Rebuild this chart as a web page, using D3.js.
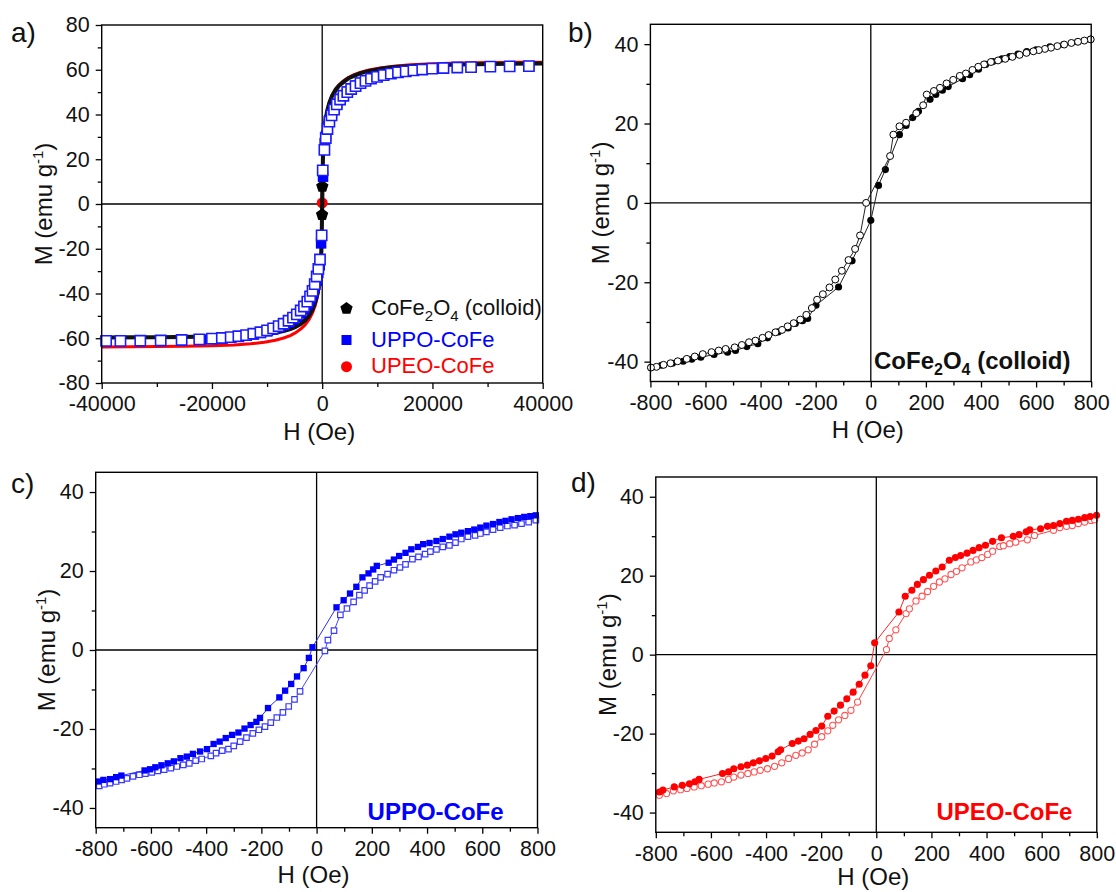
<!DOCTYPE html>
<html>
<head>
<meta charset="utf-8">
<script src="https://cdn.jsdelivr.net/npm/d3@7"></script>
<style>
body{margin:0;background:#fff;}
text{font-family:"Liberation Sans",Arial,sans-serif;fill:#111;}
</style>
</head>
<body>
<script>
// ---------- tick values ----------
var aXTicks = [-40000,-20000,0,20000,40000];
var aXMinor = [-30000,-10000,10000,30000];
var aYTicks = [-80,-60,-40,-20,0,20,40,60,80];
var aYMinor = [-70,-50,-30,-10,10,30,50,70];
var hXTicks = [-800,-600,-400,-200,0,200,400,600,800];
var hXMinor = [-700,-500,-300,-100,100,300,500,700];
var hYTicks = [-40,-20,0,20,40];
var hYMinor = [-30,-10,10,30];

// ---------- panel a : full loops, [H (Oe), M (emu/g)] ----------
var aRed = [[40000,63.4],[35000,63.3],[30000,63.2],[25000,63.0],[20000,62.7],[16000,62.2],[13000,61.6],[10500,60.8],
  [8500,59.9],[7000,58.9],[5800,57.8],[4800,56.6],[3900,55.1],[3100,53.4],[2400,51.3],[1800,48.6],[1300,45.4],
  [900,41.6],[600,37.5],[400,33.2],[250,28.2],[130,20.6],[0,0.5],[-130,-20.5],[-250,-28.2],[-400,-33.2],
  [-600,-37.6],[-900,-41.8],[-1300,-45.6],[-1800,-48.9],[-2400,-51.7],[-3100,-54.0],[-3900,-55.9],[-4800,-57.5],
  [-5800,-58.8],[-7000,-59.9],[-8500,-60.9],[-10500,-61.8],[-13000,-62.5],[-16000,-63.0],[-20000,-63.4],
  [-25000,-63.6],[-30000,-63.7],[-35000,-63.8],[-40000,-63.9]];
var aBlack = [[40000,62.8],[35000,62.7],[30000,62.6],[25000,62.4],[20000,62.1],[16000,61.7],[13000,61.2],[10500,60.4],
  [8500,59.5],[7000,58.5],[5800,57.4],[4800,56.2],[3900,54.7],[3100,53.0],[2400,51.0],[1800,48.4],[1300,45.3],
  [900,41.6],[600,37.6],[400,33.3],[250,28.4],[130,21.0],[-20,-4.8],[-120,-19.0],[-250,-27.3],[-400,-32.2],
  [-600,-36.6],[-900,-40.6],[-1300,-44.2],[-1800,-47.4],[-2400,-50.0],[-3100,-52.0],[-3900,-53.6],[-4800,-54.9],
  [-5800,-55.9],[-7000,-56.8],[-8500,-57.6],[-10500,-58.2],[-13000,-58.7],[-16000,-59.0],[-20000,-59.2],
  [-25000,-59.4],[-30000,-59.5],[-35000,-59.6],[-40000,-59.7],
  [-30000,-59.5],[-20000,-59.2],[-13000,-58.7],[-8500,-57.6],[-5800,-55.9],[-3900,-53.6],[-2400,-50.0],
  [-1300,-44.2],[-600,-36.6],[-250,-27.3],[-80,-14.0],[20,7.8],[150,22.0],[400,33.3],[900,41.6],[1800,48.4],
  [3100,53.0],[4800,56.2],[7000,58.5],[10500,60.4],[16000,61.7],[25000,62.4],[40000,62.8]];
var aBlueDown = [[37500,61.6],[34000,61.5],[30500,61.4],[27000,61.2],[24500,61.0],[22000,60.8],[20000,60.5],[18200,60.2],
  [16600,59.8],[15200,59.4],[13800,58.9],[12500,58.3],[11200,57.6],[10000,56.9],[8900,56.1],[7900,55.1],[7000,54.1],
  [6100,52.9],[5300,51.6],[4600,50.2],[3900,48.6],[3300,46.9],[2700,44.8],[2200,42.6],[1750,40.2],[1350,37.4],
  [1000,34.2],[700,30.5],[450,27.2],[150,12.2],[-200,-17.6],[-450,-27.4],[-700,-30.8],[-1000,-34.4],[-1350,-37.6],
  [-1750,-40.4],[-2200,-42.8],[-2700,-45.0],[-3300,-47.1],[-3900,-48.8],[-4600,-50.4],[-5300,-51.8],[-6100,-53.0],
  [-7000,-54.2],[-7900,-55.2],[-8900,-56.1],[-10000,-56.9],[-11200,-57.6],[-12500,-58.3],[-13800,-58.8],
  [-15200,-59.3],[-16600,-59.7],[-18200,-60.1],[-20000,-60.4],[-22000,-60.6],[-25500,-60.9],[-29300,-61.0],
  [-33000,-61.1],[-36600,-61.2],[-39200,-61.2]];
var aBlueUp = [[-39200,-61.2],[-36600,-61.2],[-33000,-61.1],[-29300,-61.0],[-25500,-60.8],[-22300,-60.5],[-20000,-60.2],
  [-18200,-59.9],[-16600,-59.5],[-15200,-59.1],[-13800,-58.6],[-12500,-58.0],[-11200,-57.3],[-10000,-56.5],
  [-8900,-55.6],[-7900,-54.6],[-7000,-53.5],[-6100,-52.2],[-5300,-50.8],[-4600,-49.3],[-3900,-47.6],[-3300,-45.8],
  [-2700,-43.6],[-2200,-41.3],[-1750,-38.8],[-1350,-35.8],[-1000,-32.4],[-700,-29.0],[-400,-24.8],[-100,-14.0],
  [100,15.0],[400,24.2],[650,29.5],[950,33.5],[1300,36.8],[1700,39.6],[2150,42.2],[2650,44.5],[3250,46.7],
  [3850,48.4],[4550,50.0],[5250,51.4],[6050,52.7],[6950,54.0],[7850,55.0],[8850,56.0],[9950,56.8],[11150,57.6],
  [12450,58.3],[13750,58.8],[15150,59.3],[16550,59.7],[18150,60.1],[19950,60.5],[22000,60.8],[24500,61.0],
  [27000,61.2],[30500,61.4],[34000,61.5],[37500,61.6]];

// ---------- panel b : CoFe2O4 (colloid) ----------
var bOpen = [[798,41.2],[775,40.9],[752,40.6],[728,40.3],[702,39.9],[677,39.5],[654,39.1],[632,38.8],[610,38.5],
  [590,38.2],[565,37.8],[540,37.3],[514,36.8],[488,36.3],[462,35.9],[436,35.5],[411,34.9],[390,34.3],[369,33.5],
  [345,32.6],[323,32.0],[299,31.0],[275,30.1],[251,29.0],[229,28.2],[203,27.3],[190,24.6],[165,22.6],[128,20.2],
  [104,19.3],[82,17.2],[70,11.8],[-17,0.0],[-39,-8.2],[-57,-11.6],[-81,-14.4],[-105,-17.1],[-129,-19.3],
  [-150,-21.3],[-174,-23.0],[-195,-24.4],[-214,-26.5],[-234,-28.2],[-256,-29.4],[-280,-30.3],[-302,-31.1],
  [-322,-32.0],[-346,-32.6],[-371,-33.3],[-393,-34.0],[-419,-34.7],[-442,-35.1],[-468,-35.8],[-494,-36.4],
  [-527,-36.8],[-552,-37.2],[-578,-37.6],[-610,-38.1],[-639,-38.7],[-668,-39.3],[-701,-39.9],[-727,-40.4],
  [-752,-40.8],[-778,-41.3],[-798,-41.5]];
var bFill = [[-798,-41.5],[-760,-40.9],[-720,-40.4],[-681,-39.9],[-650,-39.4],[-617,-38.9],[-569,-38.2],[-520,-37.6],
  [-491,-37.2],[-450,-36.2],[-410,-35.5],[-375,-34.0],[-336,-32.5],[-300,-31.5],[-274,-30.4],[-248,-29.7],
  [-229,-29.1],[-199,-25.8],[-117,-21.2],[-68,-14.6],[0,-4.4],[28,4.4],[53,8.4],[104,17.2],[128,19.5],[152,21.5],
  [173,23.1],[215,26.1],[236,27.3],[260,28.4],[281,29.3],[333,31.3],[359,32.3],[391,33.7],[417,34.9],[443,35.6],
  [476,36.3],[504,36.9],[534,37.5],[566,38.1],[600,38.6],[650,39.3],[700,39.9],[750,40.6],[798,41.2]];

// ---------- panel c : UPPO-CoFe ----------
var cFill = [[794,34.1],[774,33.9],[752,33.7],[729,33.4],[706,33.1],[684,32.7],[662,32.4],[639,31.9],[615,31.5],
  [593,31.0],[571,30.5],[548,30.1],[524,29.7],[503,29.3],[481,28.7],[457,28.1],[434,27.6],[409,27.1],[386,26.8],
  [367,26.1],[343,25.5],[322,24.6],[299,23.8],[280,22.9],[261,22.1],[218,21.3],[205,20.4],[188,19.4],[166,18.4],
  [144,16.0],[121,14.3],[98,12.6],[72,10.8],[-15,0.7],[-28,-2.0],[-47,-4.6],[-71,-6.7],[-92,-8.6],[-114,-10.3],
  [-135,-12.0],[-176,-14.7],[-205,-17.2],[-218,-18.2],[-239,-19.0],[-261,-19.9],[-283,-20.9],[-306,-21.5],
  [-329,-22.3],[-351,-23.2],[-373,-23.8],[-397,-25.1],[-422,-25.7],[-448,-26.3],[-470,-27.0],[-493,-27.4],
  [-517,-28.2],[-539,-28.7],[-562,-29.2],[-584,-29.7],[-603,-30.2],[-623,-30.5],[-707,-31.8],[-726,-32.2],
  [-748,-32.7],[-772,-32.9],[-791,-33.3]];
var cOpen = [[-787,-34.4],[-769,-34.0],[-748,-33.7],[-726,-33.3],[-706,-32.9],[-687,-32.5],[-665,-32.0],[-642,-31.6],
  [-620,-31.3],[-597,-31.0],[-575,-30.6],[-552,-30.3],[-528,-29.9],[-506,-29.5],[-483,-29.1],[-461,-28.7],
  [-438,-28.0],[-416,-27.6],[-383,-26.8],[-364,-26.1],[-342,-25.5],[-319,-25.1],[-300,-24.3],[-277,-23.2],
  [-254,-22.2],[-231,-21.1],[-209,-20.2],[-187,-19.4],[-166,-18.4],[-144,-17.1],[-122,-15.8],[-101,-14.3],
  [-80,-12.5],[-60,-10.5],[30,-0.2],[41,2.5],[63,4.9],[86,8.9],[110,10.5],[134,12.2],[155,13.9],[174,15.1],
  [192,16.3],[212,17.4],[232,18.4],[257,19.2],[280,20.2],[302,20.9],[322,21.7],[347,23.0],[369,23.6],[393,24.3],
  [412,24.9],[434,25.5],[457,26.1],[481,26.5],[503,27.2],[524,28.1],[548,28.7],[574,29.0],[593,29.5],[615,29.9],
  [639,30.5],[665,31.0],[691,31.4],[717,31.6],[742,32.0],[768,32.4],[794,32.9]];

// ---------- panel d : UPEO-CoFe ----------
var dFill = [[799,35.3],[776,35.0],[756,34.7],[733,34.3],[711,34.0],[690,33.8],[666,33.2],[643,32.7],[621,32.5],
  [596,31.9],[557,31.6],[544,31.1],[518,30.4],[497,30.0],[454,29.6],[422,28.7],[396,27.7],[373,27.1],[351,26.4],
  [329,25.7],[306,25.1],[287,24.6],[265,23.9],[239,22.2],[216,21.2],[193,20.1],[171,19.0],[149,17.8],[129,16.3],
  [105,14.8],[82,10.8],[-6,3.0],[-20,-2.8],[-41,-5.2],[-62,-7.5],[-84,-9.5],[-107,-11.2],[-130,-12.8],
  [-153,-14.3],[-176,-15.6],[-198,-18.1],[-219,-19.2],[-240,-20.2],[-262,-21.3],[-283,-21.9],[-305,-22.5],
  [-347,-24.1],[-356,-24.6],[-378,-25.7],[-401,-26.3],[-424,-26.9],[-446,-27.4],[-468,-28.0],[-491,-28.4],
  [-517,-28.9],[-536,-29.7],[-558,-30.1],[-643,-31.6],[-658,-32.2],[-678,-32.7],[-704,-33.1],[-733,-33.5],
  [-774,-34.3],[-787,-34.8]];
var dOpen = [[-787,-35.6],[-761,-35.2],[-736,-34.5],[-710,-34.2],[-687,-33.9],[-661,-33.5],[-635,-33.2],[-610,-32.8],
  [-588,-32.5],[-562,-32.2],[-536,-31.6],[-517,-31.0],[-491,-30.5],[-466,-30.1],[-443,-29.7],[-421,-29.3],
  [-395,-28.9],[-369,-28.3],[-343,-27.4],[-318,-26.3],[-292,-25.5],[-269,-24.9],[-247,-24.1],[-224,-22.7],
  [-198,-20.8],[-176,-19.3],[-158,-17.9],[-137,-16.5],[-114,-15.4],[-92,-14.1],[-68,-12.0],[37,1.3],[47,4.1],
  [71,6.3],[108,10.4],[120,11.6],[144,13.6],[166,14.8],[186,16.0],[208,17.3],[229,18.4],[249,19.2],[271,20.3],
  [291,21.1],[311,22.0],[343,23.5],[363,24.0],[383,24.6],[404,25.4],[422,26.2],[448,27.4],[461,27.6],[484,28.1],
  [506,28.5],[548,29.1],[574,30.2],[643,31.5],[666,32.2],[690,32.5],[711,32.7],[733,33.2],[756,33.6],[779,34.0],
  [792,34.2]];

var legendNames = ["CoFe2O4 (colloid)","UPPO-CoFe","UPEO-CoFe"];

// ---------- drawing ----------
var svg = d3.select("body").append("svg").attr("width",1116).attr("height",892);

var pentagon = {
  draw: function(ctx, size) {
    var r = Math.sqrt(size / 2.378);
    for (var i = 0; i < 5; i++) {
      var a = -Math.PI/2 + i*2*Math.PI/5;
      if (i === 0) ctx.moveTo(r*Math.cos(a), r*Math.sin(a));
      else ctx.lineTo(r*Math.cos(a), r*Math.sin(a));
    }
    ctx.closePath();
  }
};

function num(d){ return String(d); }

function panel(o) {
  var g = svg.append("g").attr("transform","translate("+o.left+","+o.top+")");
  var x = d3.scaleLinear().domain(o.xDom).range([0,o.w]);
  var y = d3.scaleLinear().domain(o.yDom).range([o.h,0]);

  var axes = g.append("g");
  axes.append("g").attr("transform","translate(0,"+o.h+")")
    .call(d3.axisBottom(x).tickValues(o.xMinor).tickSize(4).tickFormat(""));
  axes.append("g").attr("transform","translate(0,"+o.h+")")
    .call(d3.axisBottom(x).tickValues(o.xTicks).tickSize(6).tickPadding(7).tickFormat(num));
  axes.append("g").call(d3.axisLeft(y).tickValues(o.yMinor).tickSize(4).tickFormat(""));
  axes.append("g").call(d3.axisLeft(y).tickValues(o.yTicks).tickSize(6).tickPadding(6).tickFormat(num));
  axes.selectAll(".domain").remove();
  axes.selectAll(".tick line").attr("stroke","#000").attr("stroke-width",1.3);
  axes.selectAll(".tick text").attr("font-size","21.5px").attr("fill","#111")
    .style("font-family","'Liberation Sans',Arial,sans-serif");

  // zero lines
  g.append("line").attr("x1",0).attr("x2",o.w).attr("y1",y(0)).attr("y2",y(0))
    .attr("stroke","#000").attr("stroke-width",1.3);
  g.append("line").attr("x1",x(0)).attr("x2",x(0)).attr("y1",0).attr("y2",o.h)
    .attr("stroke","#000").attr("stroke-width",1.3);

  var data = g.append("g");
  g.append("rect").attr("width",o.w).attr("height",o.h)
    .attr("fill","none").attr("stroke","#000").attr("stroke-width",1.4);

  // axis titles
  g.append("text").attr("x",o.w/2 - 3).attr("y",o.h+o.xTitleDy).attr("text-anchor","middle")
    .attr("font-size","24px").text("H (Oe)");
  var yt = g.append("text").attr("transform","translate("+o.yTitleX+","+(o.h/2)+") rotate(-90)")
    .attr("text-anchor","middle").attr("font-size","24px");
  yt.append("tspan").text("M (emu g");
  yt.append("tspan").attr("dy",-9).attr("font-size","15px").text("-1");
  yt.append("tspan").attr("dy",9).text(")");

  // panel letter
  svg.append("text").attr("x",o.letterX).attr("y",o.letterY).attr("font-size","28px").text(o.letter);

  return {g:data, x:x, y:y};
}

function series(p, rows, s) {
  if (s.line) {
    p.g.append("path").datum(rows).attr("fill","none").attr("stroke",s.line)
      .attr("stroke-width",s.lw || 1).attr("stroke-linejoin","round")
      .attr("d", d3.line().x(function(d){return p.x(d[0]);}).y(function(d){return p.y(d[1]);}));
  }
  if (!s.type) return;
  var marks = s.keep ? rows.filter(s.keep) : rows;
  p.g.append("g").selectAll("path").data(marks).enter().append("path")
    .attr("transform", function(d){ return "translate("+p.x(d[0])+","+p.y(d[1])+")"; })
    .attr("d", d3.symbol().type(s.type).size(s.size))
    .attr("fill", s.fill).attr("stroke", s.stroke || "none").attr("stroke-width", s.sw || 0);
}

function chem(t, size) {
  // CoFe2O4 with subscripts
  var sub = Math.round(size*0.68)+"px";
  t.append("tspan").text("CoFe");
  t.append("tspan").attr("dy",6).attr("font-size",sub).text("2");
  t.append("tspan").attr("dy",-6).text("O");
  t.append("tspan").attr("dy",6).attr("font-size",sub).text("4");
  t.append("tspan").attr("dy",-6).text(" (colloid)");
}

// near-zero points of the dense loops show as single big symbols
function nearZeroField(d){ return Math.abs(d[0]) <= 30; }

// ---- a)
var pa = panel({left:101.7, top:25, w:441, h:358, xDom:[-40000,40000], yDom:[-80,80],
  xTicks:aXTicks, xMinor:aXMinor, yTicks:aYTicks, yMinor:aYMinor, xTitleDy:57,
  yTitleX:-50, letter:"a)", letterX:11, letterY:42});
series(pa, aRed,   {line:"#ff0000", lw:3, type:d3.symbolCircle, size:95, fill:"#ff0000", keep:nearZeroField});
series(pa, aBlack, {line:"#111", lw:4, type:pentagon, size:100, fill:"#000", keep:nearZeroField});
series(pa, aBlueDown, {type:d3.symbolSquare, size:110, fill:"#0000ff"});
series(pa, aBlueUp,   {type:d3.symbolSquare, size:105, fill:"#fff", stroke:"#1a1aff", sw:1.6});

// legend
var lg = svg.append("g");
var legendRows = [
  {y:308.5, ty:315, color:"#000", type:pentagon, size:100},
  {y:340, ty:346.7, color:"#0000ff", type:d3.symbolSquare, size:100},
  {y:366.7, ty:372.7, color:"#ff0000", type:d3.symbolCircle, size:95}
];
legendRows.forEach(function(r, i) {
  lg.append("path").attr("transform","translate(346.5,"+r.y+")")
    .attr("d", d3.symbol().type(r.type).size(r.size)).attr("fill", r.color);
  var t = lg.append("text").attr("x",371).attr("y",r.ty).attr("font-size","22px")
    .style("fill", i === 0 ? "#111" : r.color);
  if (i === 0) chem(t, 22); else t.text(legendNames[i]);
});

// ---- b)
var pb = panel({left:650.4, top:24.3, w:440.8, h:357.2, xDom:[-800,800], yDom:[-45,45],
  xTicks:hXTicks, xMinor:hXMinor, yTicks:hYTicks, yMinor:hYMinor, xTitleDy:57,
  yTitleX:-41, letter:"b)", letterX:568, letterY:42});
series(pb, bFill, {type:d3.symbolCircle, size:40, fill:"#000", line:"#222", lw:1});
series(pb, bOpen, {type:d3.symbolCircle, size:38, fill:"#fff", stroke:"#000", sw:1, line:"#222", lw:1});
var tb = svg.append("text").attr("x",1070.5).attr("y",369.3).attr("text-anchor","end")
  .attr("font-size","24px").attr("font-weight","bold");
chem(tb, 24);

// ---- c)
var pc = panel({left:95.7, top:472.3, w:441.8, h:355.4, xDom:[-800,800], yDom:[-45,45],
  xTicks:hXTicks, xMinor:hXMinor, yTicks:hYTicks, yMinor:hYMinor, xTitleDy:55,
  yTitleX:-40.5, letter:"c)", letterX:11, letterY:493});
series(pc, cOpen, {type:d3.symbolSquare, size:30, fill:"#fff", stroke:"#3a3aff", sw:1.2, line:"#4444ff", lw:1});
series(pc, cFill, {type:d3.symbolSquare, size:40, fill:"#0000ff", line:"#2a2aff", lw:1});
svg.append("text").attr("x",503.6).attr("y",820).attr("text-anchor","end")
  .attr("font-size","24px").attr("font-weight","bold").style("fill","#0000ff").text(legendNames[1]);

// ---- d)
var pd = panel({left:655.8, top:477, w:441, h:355.3, xDom:[-800,800], yDom:[-45,45],
  xTicks:hXTicks, xMinor:hXMinor, yTicks:hYTicks, yMinor:hYMinor, xTitleDy:53,
  yTitleX:-39.5, letter:"d)", letterX:571, letterY:492});
series(pd, dOpen, {type:d3.symbolCircle, size:30, fill:"#fff", stroke:"#ff5555", sw:1.1, line:"#ff4040", lw:1});
series(pd, dFill, {type:d3.symbolCircle, size:40, fill:"#ff0000", line:"#ff2020", lw:1});
svg.append("text").attr("x",1072.4).attr("y",820).attr("text-anchor","end")
  .attr("font-size","24px").attr("font-weight","bold").style("fill","#ff0000").text(legendNames[2]);
</script>
</body>
</html>
